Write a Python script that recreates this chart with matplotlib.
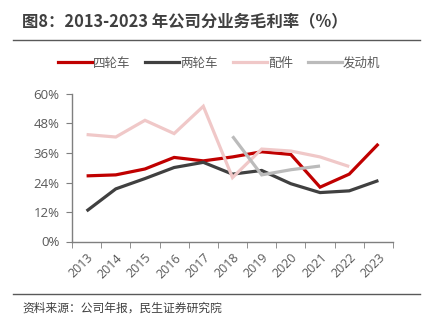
import matplotlib
matplotlib.use("Agg")
import matplotlib.pyplot as plt
from matplotlib.lines import Line2D

plt.rcParams['font.family'] = ['Noto Sans CJK SC', 'DejaVu Sans']

years = ['2013', '2014', '2015', '2016', '2017', '2018', '2019', '2020', '2021', '2022', '2023']
four_wheel = [26.7, 27.1, 29.5, 34.2, 32.8, 34.4, 36.5, 35.4, 22.1, 27.4, 39.7]
two_wheel = [12.4, 21.4, 25.6, 30.1, 32.2, 27.4, 28.9, 23.5, 19.9, 20.6, 24.8]
parts = [43.5, 42.5, 49.3, 43.9, 55.0, 26.0, 37.6, 36.8, 34.4, 30.5, None]
engine = [None, None, None, None, None, 42.8, 27.1, 29.2, 30.7, None, None]
series_names = ['四轮车', '两轮车', '配件', '发动机']
colors = ['#C00000', '#404040', '#F0C8C8', '#BBBBBB']
yticks = [0, 12, 24, 36, 48, 60]

fig = plt.figure(figsize=(4.34, 3.25), dpi=100)
ax = fig.add_axes([72/434, 1-241.5/325, (393-72)/434, (241.5-94)/325])

x = list(range(len(years)))
for vals, c in zip([four_wheel, two_wheel, parts, engine], colors):
    xs = [i for i, v in zip(x, vals) if v is not None]
    ys = [v for v in vals if v is not None]
    ax.plot(xs, ys, color=c, lw=2.3, solid_capstyle='butt', solid_joinstyle='miter')

tick_font = ['Open Sans', 'DejaVu Sans']
ax.set_xlim(-0.5, len(years) - 0.5)
ax.set_ylim(0, 60)
ax.set_yticks(yticks)
ax.set_yticklabels([f'{v}%' for v in yticks], color='#595959', fontsize=9.5, family=tick_font)
ax.set_xticks(x)
ax.set_xticklabels(years, rotation=45, ha='right', rotation_mode='anchor', color='#595959',
                   fontsize=9, family=tick_font)
ax.set_xticks([i - 0.5 for i in range(len(years) + 1)], minor=True)
ax.tick_params(axis='x', which='major', length=0, pad=7)
ax.tick_params(axis='x', which='minor', length=4, color='#7F7F7F', direction='out')
ax.tick_params(axis='y', length=4, color='#7F7F7F', direction='out', pad=5)
for s in ['top', 'right']:
    ax.spines[s].set_visible(False)
for s in ['left', 'bottom']:
    ax.spines[s].set_color('#7F7F7F')
    ax.spines[s].set_linewidth(1.0)

handles = [Line2D([0], [0], color=c, lw=2.3) for c in colors]
fig.legend(handles, series_names, loc='center', bbox_to_anchor=(0.505, 1-63/325), ncol=4,
           frameon=False, fontsize=9, handlelength=2.7, handletextpad=0.1, columnspacing=1.2,
           labelcolor='#595959')

fig.text(22/434, 1-21/325, '图8：2013-2023 年公司分业务毛利率（%）', fontsize=11.8, fontweight='bold',
         color='#404040', va='center', ha='left')
fig.add_artist(Line2D([13/434, 420/434], [1-40/325, 1-40/325], color='#595959', lw=1.0))
fig.add_artist(Line2D([13/434, 420/434], [1-294/325, 1-294/325], color='#595959', lw=1.0))
fig.text(22/434, 1-308/325, '资料来源：公司年报，民生证券研究院', fontsize=8.5, color='#404040',
         va='center', ha='left')

fig.savefig('out.png', dpi=100)
